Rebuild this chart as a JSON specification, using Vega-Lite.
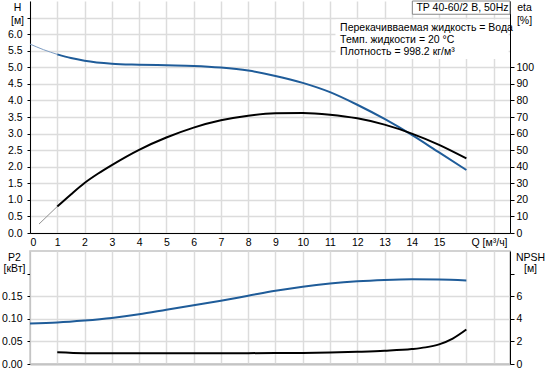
{
  "$schema": "https://vega.github.io/schema/vega-lite/v6.json",
  "padding": {"left": 0, "top": 0, "right": 0, "bottom": 0},
  "background": "white",
  "datasets": {
    "h_ext": [{"Q": 0, "H": 5.70}, {"Q": 0.5, "H": 5.53}, {"Q": 1, "H": 5.39}],
    "h": [
      {"Q": 1, "H": 5.39}, {"Q": 1.5, "H": 5.28}, {"Q": 2, "H": 5.20}, {"Q": 3, "H": 5.11},
      {"Q": 4, "H": 5.08}, {"Q": 5, "H": 5.06}, {"Q": 6, "H": 5.04}, {"Q": 7, "H": 4.99},
      {"Q": 8, "H": 4.90}, {"Q": 9, "H": 4.74}, {"Q": 10, "H": 4.53}, {"Q": 11, "H": 4.25},
      {"Q": 12, "H": 3.87}, {"Q": 13, "H": 3.44}, {"Q": 14, "H": 2.96}, {"Q": 15, "H": 2.43},
      {"Q": 16, "H": 1.90}
    ],
    "eta_ext": [{"Q": 0.33, "eta": 5.4}, {"Q": 1, "eta": 16}],
    "eta": [
      {"Q": 1, "eta": 16}, {"Q": 1.5, "eta": 23.3}, {"Q": 2, "eta": 30.2}, {"Q": 2.5, "eta": 35.9},
      {"Q": 3, "eta": 41}, {"Q": 4, "eta": 50.2}, {"Q": 5, "eta": 57.6}, {"Q": 6, "eta": 63.6},
      {"Q": 7, "eta": 68}, {"Q": 8, "eta": 70.8}, {"Q": 9, "eta": 72.2}, {"Q": 10, "eta": 72.4},
      {"Q": 11, "eta": 71.4}, {"Q": 12, "eta": 69.2}, {"Q": 13, "eta": 65.4}, {"Q": 14, "eta": 60},
      {"Q": 15, "eta": 53.2}, {"Q": 16, "eta": 45}
    ],
    "p2": [
      {"Q": 0, "P2": 0.0897}, {"Q": 1, "P2": 0.092}, {"Q": 2, "P2": 0.0963}, {"Q": 3, "P2": 0.102},
      {"Q": 4, "P2": 0.110}, {"Q": 5, "P2": 0.120}, {"Q": 6, "P2": 0.130}, {"Q": 7, "P2": 0.140},
      {"Q": 8, "P2": 0.151}, {"Q": 9, "P2": 0.162}, {"Q": 10, "P2": 0.171}, {"Q": 11, "P2": 0.178},
      {"Q": 12, "P2": 0.183}, {"Q": 13, "P2": 0.186}, {"Q": 14, "P2": 0.1875}, {"Q": 15, "P2": 0.187},
      {"Q": 16, "P2": 0.185}
    ],
    "npsh": [
      {"Q": 1, "NPSH": 1.04}, {"Q": 2, "NPSH": 0.96}, {"Q": 3, "NPSH": 0.95}, {"Q": 4, "NPSH": 0.95},
      {"Q": 5, "NPSH": 0.95}, {"Q": 6, "NPSH": 0.95}, {"Q": 7, "NPSH": 0.95}, {"Q": 8, "NPSH": 0.96},
      {"Q": 9, "NPSH": 0.97}, {"Q": 10, "NPSH": 0.98}, {"Q": 11, "NPSH": 1.01}, {"Q": 12, "NPSH": 1.08},
      {"Q": 13, "NPSH": 1.17}, {"Q": 14, "NPSH": 1.32}, {"Q": 14.5, "NPSH": 1.47}, {"Q": 15, "NPSH": 1.74},
      {"Q": 15.5, "NPSH": 2.25}, {"Q": 16, "NPSH": 3.05}
    ],
    "one": [{}]
  },
  "spacing": 2,
  "vconcat": [
    {
      "width": 480,
      "height": 232,
      "view": {"stroke": null},
      "layer": [
        {
          "layer": [
            {
              "data": {"name": "h"},
              "mark": {"type": "line", "color": "#1f5c99", "strokeWidth": 2, "interpolate": "monotone"},
              "encoding": {
                "x": {
                  "field": "Q", "type": "quantitative",
                  "scale": {"domain": [0, 17.6], "nice": false, "zero": false},
                  "axis": {
                    "values": [0,1,2,3,4,5,6,7,8,9,10,11,12,13,14,15,16,17],
                    "tickCount": 100,
                    "labelExpr": "datum.value > 15.5 ? '' : format(datum.value, 'd')",
                    "labelOverlap": false,
                    "grid": true, "gridColor": "#dcdcdc", "gridWidth": 1.5,
                    "ticks": false, "labelPadding": 4, "labelBaseline": "top",
                    "domainColor": "black", "domainWidth": 1,
                    "title": "Q [м³/ч]", "titleX": 441, "titleY": 4, "titleAlign": "left",
                    "titleBaseline": "top", "titleAnchor": null
                  }
                },
                "y": {
                  "field": "H", "type": "quantitative",
                  "scale": {"domain": [0, 7], "nice": false},
                  "axis": {
                    "values": [0,0.5,1,1.5,2,2.5,3,3.5,4,4.5,5,5.5,6,6.5],
                    "tickCount": 100,
                    "labelExpr": "datum.value > 6.05 ? '' : format(datum.value, '.1f')",
                    "labelOverlap": false,
                    "grid": true, "gridColor": "#dcdcdc", "gridWidth": 1.5,
                    "tickSize": 3, "tickColor": "black", "labelPadding": 5,
                    "domainColor": "black",
                    "title": ["H", "[м]"], "titleAngle": 0, "titleX": -13, "titleY": 1,
                    "titleAlign": "center", "titleBaseline": "top", "titleLineHeight": 13
                  }
                }
              }
            },
            {
              "data": {"name": "h_ext"},
              "mark": {"type": "line", "color": "#7d9cc2", "strokeWidth": 1, "interpolate": "monotone"},
              "encoding": {
                "x": {"field": "Q", "type": "quantitative"},
                "y": {"field": "H", "type": "quantitative"}
              }
            },
            {
              "data": {"name": "one"},
              "mark": {"type": "rect", "fill": "white"},
              "encoding": {
                "x": {"datum": 11.2, "type": "quantitative"}, "x2": {"datum": 17.55},
                "y": {"datum": 6.44, "type": "quantitative"}, "y2": {"datum": 5.25}
              }
            },
            {
              "data": {"name": "one"},
              "mark": {"type": "rect", "fill": "white", "stroke": "#888888", "strokeWidth": 1},
              "encoding": {
                "x": {"datum": 14.02, "type": "quantitative"}, "x2": {"datum": 17.6},
                "y": {"datum": 7, "type": "quantitative"}, "y2": {"datum": 6.6}
              }
            },
            {
              "data": {"name": "one"},
              "mark": {"type": "text", "align": "left", "baseline": "middle", "fontSize": 10.5, "color": "black"},
              "encoding": {
                "x": {"datum": 14.17, "type": "quantitative"},
                "y": {"datum": 6.8, "type": "quantitative"},
                "text": {"value": "TP 40-60/2 B, 50Hz"}
              }
            },
            {
              "data": {"name": "one"},
              "mark": {"type": "text", "align": "left", "baseline": "middle", "fontSize": 10.5, "color": "black"},
              "encoding": {
                "x": {"datum": 11.37, "type": "quantitative"},
                "y": {"datum": 6.19, "type": "quantitative"},
                "text": {"value": "Перекачивваемая жидкость = Вода"}
              }
            },
            {
              "data": {"name": "one"},
              "mark": {"type": "text", "align": "left", "baseline": "middle", "fontSize": 10.5, "color": "black"},
              "encoding": {
                "x": {"datum": 11.37, "type": "quantitative"},
                "y": {"datum": 5.83, "type": "quantitative"},
                "text": {"value": "Темп. жидкости = 20 °C"}
              }
            },
            {
              "data": {"name": "one"},
              "mark": {"type": "text", "align": "left", "baseline": "middle", "fontSize": 10.5, "color": "black"},
              "encoding": {
                "x": {"datum": 11.37, "type": "quantitative"},
                "y": {"datum": 5.47, "type": "quantitative"},
                "text": {"value": "Плотность = 998.2 кг/м³"}
              }
            }
          ]
        },
        {
          "layer": [
            {
              "data": {"name": "eta"},
              "mark": {"type": "line", "color": "black", "strokeWidth": 2, "interpolate": "monotone"},
              "encoding": {
                "x": {"field": "Q", "type": "quantitative"},
                "y": {
                  "field": "eta", "type": "quantitative",
                  "scale": {"domain": [0, 140], "nice": false},
                  "axis": {
                    "orient": "right",
                    "values": [0,10,20,30,40,50,60,70,80,90,100],
                    "tickCount": 100,
                    "labelExpr": "format(datum.value, 'd')",
                    "labelOverlap": false,
                    "grid": false, "tickSize": 4, "tickColor": "black", "labelPadding": 2,
                    "domainColor": "black",
                    "title": ["eta", "[%]"], "titleAngle": 0, "titleX": 14, "titleY": 1,
                    "titleAlign": "center", "titleBaseline": "top", "titleLineHeight": 13
                  }
                }
              }
            },
            {
              "data": {"name": "eta_ext"},
              "mark": {"type": "line", "color": "#909090", "strokeWidth": 1},
              "encoding": {
                "x": {"field": "Q", "type": "quantitative"},
                "y": {"field": "eta", "type": "quantitative"}
              }
            }
          ]
        }
      ],
      "resolve": {"scale": {"y": "independent"}}
    },
    {
      "width": 480,
      "height": 113,
      "view": {"stroke": "#c4c4c4", "strokeWidth": 1.5},
      "layer": [
        {
          "data": {"name": "p2"},
          "mark": {"type": "line", "color": "#1f5c99", "strokeWidth": 2, "interpolate": "monotone"},
          "encoding": {
            "x": {
              "field": "Q", "type": "quantitative",
              "scale": {"domain": [0, 17.6], "nice": false, "zero": false},
              "axis": {
                "values": [0,1,2,3,4,5,6,7,8,9,10,11,12,13,14,15,16,17],
                "tickCount": 100,
                "labels": false, "ticks": false, "title": null,
                "grid": true, "gridColor": "#dcdcdc", "gridWidth": 1.5,
                "domainColor": "#c4c4c4", "domainWidth": 2
              }
            },
            "y": {
              "field": "P2", "type": "quantitative",
              "scale": {"domain": [0, 0.25], "nice": false},
              "axis": {
                "values": [0, 0.05, 0.1, 0.15, 0.2],
                "tickCount": 100,
                "labelExpr": "datum.value > 0.19 ? '' : format(datum.value, '.2f')",
                "labelOverlap": false,
                "grid": true, "gridWidth": 1.5,
                "gridColor": {"condition": {"test": "datum.value > 0.19", "value": "transparent"}, "value": "#dcdcdc"},
                "tickSize": 3, "tickColor": "black", "labelPadding": 5,
                "domainColor": "#c4c4c4",
                "title": ["P2", "[кВт]"], "titleAngle": 0, "titleX": -16, "titleY": 1,
                "titleAlign": "center", "titleBaseline": "top", "titleLineHeight": 11
              }
            }
          }
        },
        {
          "data": {"name": "npsh"},
          "mark": {"type": "line", "color": "black", "strokeWidth": 2, "interpolate": "monotone"},
          "encoding": {
            "x": {"field": "Q", "type": "quantitative"},
            "y": {
              "field": "NPSH", "type": "quantitative",
              "scale": {"domain": [0, 10], "nice": false},
              "axis": {
                "orient": "right",
                "values": [0, 2, 4, 6, 8],
                "tickCount": 100,
                "labelExpr": "datum.value > 7 ? '' : format(datum.value, 'd')",
                "labelOverlap": false,
                "grid": false, "tickSize": 4, "tickColor": "black", "labelPadding": 2,
                "domainColor": "black",
                "title": ["NPSH", "[м]"], "titleAngle": 0, "titleX": 20, "titleY": 1,
                "titleAlign": "center", "titleBaseline": "top", "titleLineHeight": 11
              }
            }
          }
        }
      ],
      "resolve": {"scale": {"y": "independent"}}
    }
  ],
  "config": {
    "font": "Liberation Sans",
    "axis": {
      "labelFont": "Liberation Sans", "labelFontSize": 10.5, "labelColor": "black",
      "titleFont": "Liberation Sans", "titleFontSize": 10.5, "titleFontWeight": "normal", "titleColor": "black"
    },
    "text": {"font": "Liberation Sans"}
  }
}
